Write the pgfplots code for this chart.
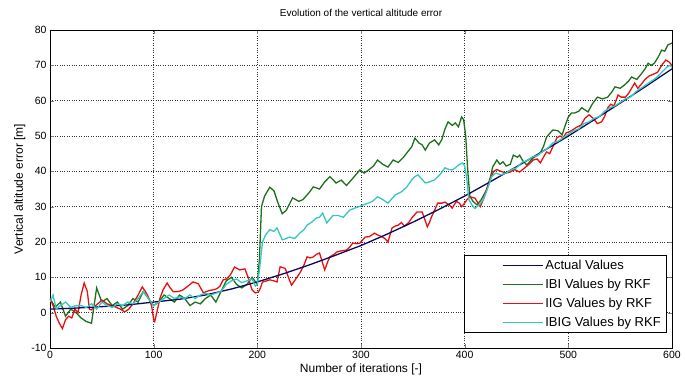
\documentclass[border=0pt]{standalone}
\usepackage{fontspec}
\setmainfont{Liberation Sans}
\usepackage{pgfplots}
\pgfplotsset{compat=1.18}
\definecolor{actc}{HTML}{0A0A5C}
\definecolor{ibic}{HTML}{1C721C}
\definecolor{iigc}{HTML}{E81010}
\definecolor{ibigc}{HTML}{34C8C0}
\begin{document}
\begin{tikzpicture}
\begin{axis}[
  scale only axis, width=622pt, height=318pt,
  xmin=0, xmax=600, ymin=-10, ymax=80,
  xtick={0,100,...,600}, ytick={-10,0,...,80},
  tick align=inside, major tick length=4pt,
  grid=major, grid style={dotted, black!80, line width=0.6pt},
  axis line style={black, line width=0.6pt},
  title={Evolution of the vertical altitude error},
  title style={font=\fontsize{10}{12}\selectfont, yshift=4pt},
  xlabel={Number of iterations [-]},
  ylabel={Vertical altitude error [m]},
  label style={font=\fontsize{12}{14}\selectfont},
  xlabel style={yshift=2pt},
  ylabel style={yshift=-1pt},
  tick label style={font=\fontsize{10.5}{12}\selectfont},
  /pgf/number format/assume math mode=true,
  legend style={at={(rel axis cs:0.992,0.047)}, anchor=south east,
    font=\fontsize{13}{15}\selectfont, draw=black, line width=0.6pt,
    row sep=4pt, inner xsep=4pt, inner ysep=3pt},
  legend cell align=left,
  legend image code/.code={\path (0pt,0pt); \draw[#1, line width=1.3pt] (34pt,0pt) -- (74pt,0pt);},
  every axis plot/.append style={line width=1.3pt},
]
\addlegendimage{actc}
\addlegendentry{Actual Values}
\addlegendimage{ibic}
\addlegendentry{IBI Values by RKF}
\addlegendimage{iigc}
\addlegendentry{IIG Values by RKF}
\addlegendimage{ibigc}
\addlegendentry{IBIG Values by RKF}

% IBI (green)
\addplot[ibic, forget plot] coordinates {
(0,4)(5,1.5)(10,3)(15,-1)(20,1)(25,0)(30,-1.5)(35,-2.5)(40,-3)(45,7)(50,3)(55,4)(60,2)(65,3)(70,1)(75,2)(80,4)(85,3)(90,6)(95,4)(100,2)(105,3)(110,5)(115,4)(120,3)(125,5)(130,4)(135,2)(140,3)(145,2.5)(150,4)(155,5)(160,3)(165,6)(170,9)(175,10)(180,8)(185,7)(190,8)(195,10)(200,8)(202,15)(204,30)(207,33)(212,35.5)(216,34.5)(220,31)(224,28)(228,29)(234,32.5)(240,31.5)(244,32)(250,34)(254,35.6)(260,35)(265,37)(270,38.5)(276,36.7)(281,37.5)(286,36)(292,38)(299,40.4)(303,39.5)(307,40.3)(312,41.5)(316,43.2)(321,42)(326,41.2)(331,43.2)(336,42.5)(341,44)(345,45.5)(349,47)(352,49.4)(356,48)(359,47.5)(362,46)(366,48)(371,48.9)(375,47.5)(378,49)(381,52)(384,54)(388,53)(391,53.7)(394,52.6)(397,55.4)(399,54.6)(401,50)(403,40)(405,33)(408,31.5)(412,30.5)(416,32)(421,34.7)(425,38.5)(427,41.2)(431,43.2)(434,42)(437,42.7)(440,41.5)(444,42)(447,44.6)(451,44)(453,44.6)(456,43)(460,41.8)(466,43.8)(470,44.5)(473,45.2)(476,47)(479,49.7)(485,51.7)(490,51.5)(494,50.3)(497,53)(500,55.4)(503,56.5)(506,56.5)(510,57)(513,58)(519,56.8)(523,59)(528,61)(533,60.5)(538,61)(542,62.5)(545,63.9)(550,63.5)(554,64.4)(558,65.5)(561,66.7)(566,66)(571,67.8)(574,69)(577,70.6)(580,70)(583,70.6)(587,72.5)(590,74.3)(593,74)(596,75.8)(600,76.3)
};
% IIG (red)
\addplot[iigc, forget plot] coordinates {
(0,4)(3,2)(6,-1)(9,-3)(12,-4.5)(15,-2)(18,-1)(21,-1.5)(24,1)(27,0)(30,5)(33,8.4)(36,6)(38,1)(40,0.8)(44,2)(48,3)(50,3.6)(55,2.5)(60,2)(63,1.6)(68,1)(72,0.2)(76,1)(80,2.5)(85,5)(89,7.3)(92,6)(95,4.4)(98,2)(100,-2)(101,-2.5)(103,0)(106,4)(109,6.4)(113,8.4)(116,7)(119,5.9)(124,6)(128,6.4)(133,7.5)(138,8.7)(143,8.2)(148,5.6)(151,6)(154,6.3)(158,6.5)(161,6.8)(164,7.5)(167,9.3)(170,9.5)(174,10.7)(178,12.9)(183,12.1)(188,12.4)(191,10.1)(195,6.4)(198,5.6)(201,5.8)(203,7)(205,8.7)(209,9)(212,9.3)(216,9)(219,8.7)(222,13)(227,12.5)(230,10)(233,7.8)(237,9.5)(241,11.2)(245,13.5)(248,15.8)(251,15.5)(254,15.8)(257,16.5)(260,16.9)(263,14)(265,12.1)(268,14.5)(270,15.8)(274,16.5)(277,17.2)(281,17.5)(286,17.7)(289,18.5)(292,19.7)(296,19.5)(299,19.7)(304,21.4)(308,21.5)(313,22.5)(316,22)(320,21.5)(323,21)(326,20)(330,24)(333,24.5)(336,24.8)(339,25.5)(342,24.5)(346,25.5)(349,26.8)(354,28.5)(359,28.5)(362,26)(364,24.3)(366,25.5)(368,27.1)(371,29)(374,31)(378,31)(381,31.3)(385,30.5)(388,29.6)(392,31.5)(395,31)(397,30)(400,31)(402,31.9)(405,32.8)(410,32.4)(415,30)(418,32)(421,34.7)(425,38)(428,40)(431,40.5)(435,40)(440,39.5)(444,39.8)(448,40.5)(453,39.8)(458,41)(462,42)(466,43.2)(470,43.5)(473,42.4)(476,44)(479,45.5)(482,45)(485,46.9)(489,49.5)(492,50)(495,49.5)(498,50.9)(501,51.2)(504,51.7)(508,52.5)(512,53)(516,55)(520,56)(524,55)(528,53.5)(532,54)(535,55.5)(538,58)(541,59)(544,58.5)(548,61.6)(551,61)(555,61)(558,62)(561,63.5)(564,65)(567,63.5)(570,64.5)(574,66)(578,67)(582,67.5)(586,68)(590,70)(594,71.5)(597,71)(600,70)
};
% Actual (navy)
\addplot[actc, forget plot] coordinates {
(0,1.0)(25,1.3)(50,1.7)(75,2.2)(100,3.0)(125,3.8)(150,5.0)(175,6.7)(200,8.7)(225,11.0)(250,13.5)(275,16.2)(300,19.0)(325,22.2)(350,25.6)(375,29.2)(400,33.0)(425,37.1)(450,41.3)(475,45.6)(500,50.0)(525,54.6)(550,59.3)(575,64.1)(600,69.0)
};
% IBIG (cyan)
\addplot[ibigc, forget plot] coordinates {
(0,3)(3,5)(6,1)(10,2)(15,3)(20,1.5)(25,2)(30,2)(35,1.5)(40,2.5)(45,1)(50,3)(55,2)(60,1.5)(65,2.5)(70,2)(75,3)(80,2.5)(85,4)(90,6)(95,4)(100,2)(105,3)(110,4)(115,5)(120,4)(125,4.5)(130,4)(135,5)(140,4)(145,5)(150,5.5)(155,5)(160,5.5)(165,6)(170,8)(175,9)(180,9.5)(185,8.5)(190,9)(195,9.5)(198,7.5)(200,8)(202,12)(205,20)(208,22)(212,23.5)(216,23)(219,24)(222,22)(224,20.6)(228,21)(231,21.4)(236,21)(241,22.5)(245,23.5)(248,24.8)(252,25.5)(257,26.8)(260,27)(263,28.2)(267,25.4)(270,26.5)(273,27.5)(278,27.5)(283,27)(286,28)(289,29)(294,29.6)(298,30)(302,30.5)(307,31)(311,31.5)(316,32.8)(321,32)(326,31)(329,32)(333,33.3)(339,34.2)(344,35.5)(349,37.6)(352,38.5)(355,39)(358,38)(362,36.7)(366,37)(371,37.6)(376,39)(381,41)(385,40.5)(388,40.4)(391,41)(394,41.8)(398,42.4)(400,41.5)(402,38)(404,32)(407,30.5)(410,29.5)(414,30.5)(418,32)(422,35)(426,38.5)(430,39.5)(435,39)(440,39.5)(445,40.5)(450,41)(455,42.5)(460,43)(465,44)(470,44.5)(475,45.5)(480,46.5)(485,48)(490,48.5)(495,49.5)(500,50.5)(505,51.5)(510,52)(515,53.5)(520,54)(525,55)(530,55.5)(535,57)(540,58)(545,58.5)(550,59.5)(555,60.5)(560,61)(565,62.5)(570,63.5)(575,64.5)(580,65.5)(585,66.5)(590,68)(595,69.5)(598,70)(600,69.5)
};
\end{axis}
\pgfresetboundingbox
\path[use as bounding box] (current axis.south west) ++(-50pt,-33pt) rectangle ++(685pt,381pt);
\end{tikzpicture}
\end{document}
